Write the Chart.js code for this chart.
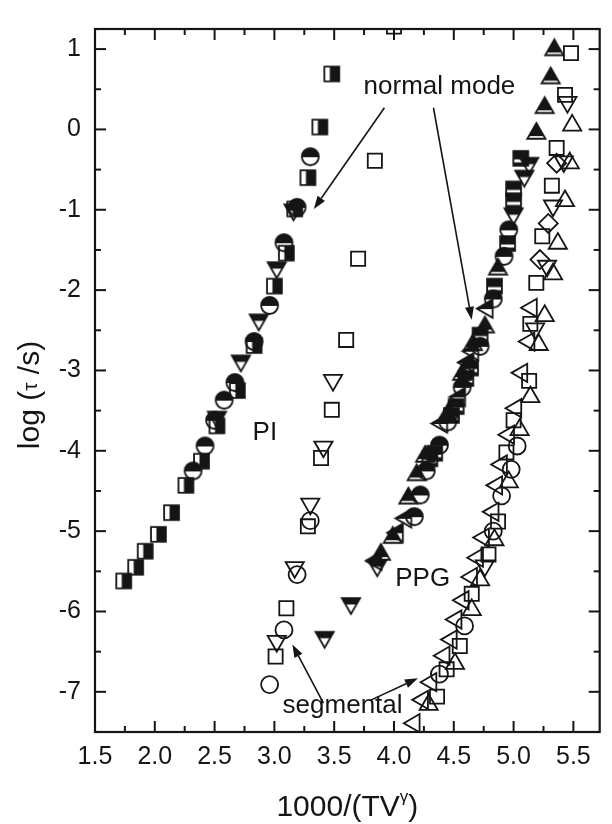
<!DOCTYPE html>
<html>
<head>
<meta charset="utf-8">
<script src="https://cdn.jsdelivr.net/npm/chart.js@4.4.1/dist/chart.umd.min.js"></script>
<style>
  html, body { margin: 0; padding: 0; background: #fff; }
  #wrap { width: 612px; height: 824px; position: relative; }
</style>
</head>
<body>
<div id="wrap"><canvas id="chart"></canvas></div>
<script>
// --- axis ticks ---
const xMajorTicks = [1.5, 2.0, 2.5, 3.0, 3.5, 4.0, 4.5, 5.0, 5.5];
const xMinorTicks = [1.75, 2.25, 2.75, 3.25, 3.75, 4.25, 4.75, 5.25];
const yMajorTicks = [-7, -6, -5, -4, -3, -2, -1, 0, 1];
const yMinorTicks = [-6.5, -5.5, -4.5, -3.5, -2.5, -1.5, -0.5, 0.5];

// --- PI, normal mode (half filled) ---
const piNormSqX = [1.74, 1.84, 1.92, 2.03, 2.14, 2.26, 2.39, 2.52, 2.69, 2.83, 3.00, 3.10, 3.17, 3.28, 3.38, 3.48];
const piNormSqY = [-5.62, -5.45, -5.25, -5.04, -4.77, -4.43, -4.13, -3.69, -3.25, -2.69, -1.95, -1.54, -0.99, -0.60, 0.03, 0.69];
const piNormCircX = [2.32, 2.42, 2.50, 2.58, 2.67, 2.83, 2.96, 3.08, 3.19, 3.30];
const piNormCircY = [-4.25, -3.94, -3.62, -3.37, -3.15, -2.64, -2.19, -1.41, -0.97, -0.34];
const piNormTriX = [2.52, 2.72, 2.87, 3.02, 3.16];
const piNormTriY = [-3.58, -2.88, -2.37, -1.72, -1.00];

// --- PI, segmental (open) ---
const piSegSqX = [3.01, 3.10, 3.28, 3.39, 3.48, 3.60, 3.70, 3.84, 4.00];
const piSegSqY = [-6.56, -5.96, -4.94, -4.09, -3.49, -2.62, -1.61, -0.39, 1.28];
const piSegCircX = [2.96, 3.08, 3.19, 3.30];
const piSegCircY = [-6.91, -6.23, -5.54, -4.87];
const piSegTriX = [3.02, 3.17, 3.30, 3.41, 3.49];
const piSegTriY = [-6.37, -5.45, -4.66, -3.95, -3.12];

// --- PPG, normal mode (half filled) ---
const ppgNormDownX = [3.42, 3.64, 3.86, 5.00, 5.09, 5.13];
const ppgNormDownY = [-6.32, -5.90, -5.43, -1.05, -0.58, -0.42];
const ppgNormUpX = [3.89, 3.99, 4.12, 4.19, 4.26, 4.46, 4.57, 4.66, 4.76, 4.87, 5.19, 5.26, 5.31, 5.34];
const ppgNormUpY = [-5.29, -5.08, -4.59, -4.30, -4.07, -3.52, -3.05, -2.68, -2.46, -1.74, -0.05, 0.27, 0.64, 0.99];
const ppgNormLeftX = [3.85, 4.03, 4.10, 4.40, 4.55, 4.62, 4.66, 4.78];
const ppgNormLeftY = [-5.37, -5.02, -4.84, -3.66, -3.33, -2.90, -2.76, -2.23];
const ppgNormCircX = [4.17, 4.22, 4.27, 4.38, 4.45, 4.57, 4.72, 4.83, 4.92, 4.96];
const ppgNormCircY = [-4.82, -4.55, -4.25, -3.93, -3.64, -3.21, -2.70, -2.11, -1.58, -1.25];
const ppgNormSqX = [4.30, 4.34, 4.48, 4.52, 4.60, 4.64, 4.72, 4.84, 4.95, 5.00, 5.00, 5.06];
const ppgNormSqY = [-4.10, -4.03, -3.56, -3.45, -3.10, -2.97, -2.56, -1.95, -1.42, -0.89, -0.74, -0.36];

// --- PPG, segmental (open) ---
const ppgSegSqX = [4.36, 4.44, 4.55, 4.65, 4.79, 4.87, 4.94, 5.00, 5.13, 5.14, 5.19, 5.24, 5.32, 5.36, 5.43, 5.48];
const ppgSegSqY = [-7.06, -6.72, -6.43, -5.78, -5.29, -4.88, -4.02, -3.62, -3.13, -2.42, -1.91, -1.33, -0.70, -0.23, 0.43, 0.95];
const ppgSegUpX = [4.29, 4.51, 4.65, 4.72, 4.84, 4.96, 5.05, 5.14, 5.21, 5.26, 5.33, 5.37, 5.43, 5.47, 5.49];
const ppgSegUpY = [-7.16, -6.65, -5.98, -5.61, -5.11, -4.39, -3.74, -3.33, -2.68, -2.32, -1.80, -1.42, -0.89, -0.42, 0.05];
const ppgSegLeftX = [4.17, 4.24, 4.31, 4.42, 4.48, 4.52, 4.58, 4.65, 4.70, 4.75, 4.83, 4.86, 4.90, 4.96, 5.02, 5.07, 5.13, 5.15];
const ppgSegLeftY = [-7.39, -7.10, -6.88, -6.55, -6.35, -6.10, -5.86, -5.57, -5.33, -5.08, -4.76, -4.43, -4.17, -3.80, -3.47, -3.03, -2.64, -2.22];
const ppgSegCircX = [4.38, 4.59, 4.83, 4.90, 4.98, 5.03];
const ppgSegCircY = [-6.78, -6.18, -5.00, -4.56, -4.23, -3.94];
const ppgSegDownX = [4.76, 5.18, 5.28, 5.33, 5.42, 5.45];
const ppgSegDownY = [-5.43, -2.48, -1.70, -0.95, -0.40, 0.34];
const ppgSegDiaX = [5.22, 5.29, 5.36];
const ppgSegDiaY = [-1.62, -1.17, -0.42];

// --- annotations (data units) ---
const labelTexts = ['normal mode', 'PI', 'PPG', 'segmental'];
const labelX = [4.38, 2.92, 4.24, 3.57];
const labelY = [0.53, -3.78, -5.59, -7.17];
const arrowFrom = [[3.92, 0.27], [4.33, 0.27], [3.41, -7.14], [3.81, -7.10]];
const arrowTo = [[3.33, -0.99], [4.65, -2.37], [3.15, -6.41], [4.20, -6.83]];

const INK = '#151515';
const FONT = "'Liberation Sans', Arial, Helvetica, sans-serif";
const LW = 1.8;

function pts(xs, ys) {
    return xs.map((x, i) => ({ x: x, y: ys[i] }));
}

// small canvases for the half filled symbols
function makeMarker(r, shape, fillPart) {
    const size = Math.ceil(2 * r + 4);
    const c = document.createElement('canvas');
    c.width = size;
    c.height = size;
    const g = c.getContext('2d');
    const cx = size / 2, cy = size / 2;
    const p = new Path2D();
    if (shape === 'square') {
        const h = r * Math.SQRT1_2;
        p.rect(cx - h, cy - h, 2 * h, 2 * h);
    } else if (shape === 'circle') {
        p.arc(cx, cy, r, 0, Math.PI * 2);
    } else {
        const ang = { up: 0, down: 180, left: 270 }[shape] * Math.PI / 180;
        for (let k = 0; k < 3; k++) {
            const a = ang + k * 2 * Math.PI / 3;
            const px = cx + Math.sin(a) * r, py = cy - Math.cos(a) * r;
            if (k === 0) p.moveTo(px, py); else p.lineTo(px, py);
        }
        p.closePath();
    }
    g.save();
    g.clip(p);
    g.fillStyle = INK;
    fillPart(g, cx, cy, r);
    g.restore();
    g.lineWidth = LW;
    g.strokeStyle = INK;
    g.stroke(p);
    return c;
}

const mkHalfSqV = makeMarker(10.5, 'square', (g, cx, cy, r) => g.fillRect(cx - 2, 0, 40, 40));
const mkHalfCirc = makeMarker(8.5, 'circle', (g, cx, cy, r) => g.fillRect(0, 0, 40, cy + 0.5));
const mkHalfDown = makeMarker(10.5, 'down', (g, cx, cy, r) => g.fillRect(0, 0, 40, cy + 1));
const mkHalfUp = makeMarker(10.5, 'up', (g, cx, cy, r) => g.fillRect(0, 0, 40, cy + r * 0.25));
const mkHalfLeft = makeMarker(10.5, 'left', (g, cx, cy, r) => g.fillRect(0, 0, 40, cy + 0.5));
const mkHalfSqH = makeMarker(10.5, 'square', (g, cx, cy, r) => {
    g.fillRect(0, 0, 40, cy + 1);
    g.fillRect(0, cy + 4, 40, 40);
});

function openSet(data, style, radius, rotation) {
    return {
        data: data,
        pointStyle: style,
        pointRadius: radius,
        pointRotation: rotation || 0,
        pointBorderWidth: LW,
        pointBorderColor: INK,
        pointBackgroundColor: 'rgba(0,0,0,0)',
        showLine: false
    };
}

function halfSet(data, img) {
    return {
        data: data,
        pointStyle: img,
        pointRadius: 9,
        showLine: false
    };
}

const datasets = [
    Object.assign(openSet(pts(piSegSqX, piSegSqY), 'rect', 10), { clip: 0 }),
    openSet(pts(piSegCircX, piSegCircY), 'circle', 8.5),
    openSet(pts(piSegTriX, piSegTriY), 'triangle', 10.5, 180),
    openSet(pts(ppgSegLeftX, ppgSegLeftY), 'triangle', 10.5, 270),
    openSet(pts(ppgSegUpX, ppgSegUpY), 'triangle', 10.5),
    openSet(pts(ppgSegSqX, ppgSegSqY), 'rect', 10),
    openSet(pts(ppgSegCircX, ppgSegCircY), 'circle', 8.5),
    openSet(pts(ppgSegDownX, ppgSegDownY), 'triangle', 10.5, 180),
    openSet(pts(ppgSegDiaX, ppgSegDiaY), 'rectRot', 9.5),
    halfSet(pts(piNormSqX, piNormSqY), mkHalfSqV),
    halfSet(pts(piNormTriX, piNormTriY), mkHalfDown),
    halfSet(pts(piNormCircX, piNormCircY), mkHalfCirc),
    halfSet(pts(ppgNormLeftX, ppgNormLeftY), mkHalfLeft),
    halfSet(pts(ppgNormUpX, ppgNormUpY), mkHalfUp),
    halfSet(pts(ppgNormSqX, ppgNormSqY), mkHalfSqH),
    halfSet(pts(ppgNormCircX, ppgNormCircY), mkHalfCirc),
    halfSet(pts(ppgNormDownX, ppgNormDownY), mkHalfDown)
];

// frame, inward ticks, titles, labels and arrows
const inkPlugin = {
    id: 'ink',
    afterDraw(chart) {
        const { ctx, chartArea: a, scales } = chart;
        const xs = scales.x, ys = scales.y;
        ctx.save();
        ctx.strokeStyle = INK;
        ctx.fillStyle = INK;
        ctx.lineWidth = 2.2;
        ctx.strokeRect(a.left, a.top, a.right - a.left, a.bottom - a.top);

        const seg = (x0, y0, x1, y1) => {
            ctx.beginPath();
            ctx.moveTo(x0, y0);
            ctx.lineTo(x1, y1);
            ctx.stroke();
        };
        ctx.lineWidth = 2;
        const xTick = (v, len) => {
            const p = xs.getPixelForValue(v);
            seg(p, a.bottom, p, a.bottom - len);
            seg(p, a.top, p, a.top + len);
        };
        const yTick = (v, len) => {
            const p = ys.getPixelForValue(v);
            seg(a.left, p, a.left + len, p);
            seg(a.right, p, a.right - len, p);
        };
        xMajorTicks.forEach(v => xTick(v, 11));
        xMinorTicks.forEach(v => xTick(v, 6));
        yMajorTicks.forEach(v => yTick(v, 11));
        yMinorTicks.forEach(v => yTick(v, 6));

        // annotations
        ctx.font = '26px ' + FONT;
        ctx.textAlign = 'center';
        ctx.textBaseline = 'middle';
        labelTexts.forEach((t, i) => {
            ctx.fillText(t, xs.getPixelForValue(labelX[i]), ys.getPixelForValue(labelY[i]));
        });

        ctx.lineWidth = 1.6;
        arrowFrom.forEach((f, i) => {
            const x0 = xs.getPixelForValue(f[0]), y0 = ys.getPixelForValue(f[1]);
            const x1 = xs.getPixelForValue(arrowTo[i][0]), y1 = ys.getPixelForValue(arrowTo[i][1]);
            const ang = Math.atan2(y1 - y0, x1 - x0);
            const len = 13, hw = 4.5;
            const bx = x1 - Math.cos(ang) * len, by = y1 - Math.sin(ang) * len;
            seg(x0, y0, bx, by);
            ctx.beginPath();
            ctx.moveTo(x1, y1);
            ctx.lineTo(bx + Math.sin(ang) * hw, by - Math.cos(ang) * hw);
            ctx.lineTo(bx - Math.sin(ang) * hw, by + Math.cos(ang) * hw);
            ctx.closePath();
            ctx.fill();
        });

        // x axis title: 1000/(TV^γ)
        ctx.textAlign = 'left';
        ctx.textBaseline = 'alphabetic';
        const big = '30px ' + FONT, small = '17px ' + FONT;
        ctx.font = big;
        const w1 = ctx.measureText('1000/(TV').width;
        const w3 = ctx.measureText(')').width;
        ctx.font = small;
        const w2 = ctx.measureText('γ').width;
        let tx = (a.left + a.right) / 2 - (w1 + w2 + w3) / 2;
        const tb = 816;
        ctx.font = big;
        ctx.fillText('1000/(TV', tx, tb);
        ctx.font = small;
        ctx.fillText('γ', tx + w1, tb - 14);
        ctx.font = big;
        ctx.fillText(')', tx + w1 + w2, tb);

        // y axis title: log (τ /s)
        ctx.save();
        ctx.translate(39, 395);
        ctx.rotate(-Math.PI / 2);
        const tauFont = '21px ' + FONT;
        ctx.font = big;
        const a1 = ctx.measureText('log (').width;
        const a3 = ctx.measureText(' /s)').width;
        ctx.font = tauFont;
        const a2 = ctx.measureText('τ').width;
        let sx = -(a1 + a2 + a3) / 2;
        ctx.font = big;
        ctx.fillText('log (', sx, 0);
        ctx.font = tauFont;
        ctx.fillText('τ', sx + a1, -2);
        ctx.font = big;
        ctx.fillText(' /s)', sx + a1 + a2, 0);
        ctx.restore();

        ctx.restore();
    }
};

const chart = new Chart(document.getElementById('chart').getContext('2d'), {
    type: 'scatter',
    data: { datasets: datasets },
    options: {
        responsive: true,
        maintainAspectRatio: false,
        animation: false,
        layout: { padding: { left: 0, right: 3, top: 11, bottom: 0 } },
        plugins: {
            legend: { display: false },
            tooltip: { enabled: false }
        },
        scales: {
            x: {
                type: 'linear',
                min: 1.5,
                max: 5.72,
                afterBuildTicks: (s) => { s.ticks = xMajorTicks.map(v => ({ value: v })); },
                afterFit: (s) => { s.height = 92; },
                grid: { display: false, drawTicks: false },
                border: { display: false },
                ticks: {
                    color: INK,
                    padding: 10,
                    maxRotation: 0,
                    autoSkip: false,
                    font: { family: FONT, size: 25 },
                    callback: (v) => Number(v).toFixed(1)
                }
            },
            y: {
                type: 'linear',
                min: -7.5,
                max: 1.25,
                afterBuildTicks: (s) => { s.ticks = yMajorTicks.map(v => ({ value: v })); },
                afterFit: (s) => { s.width = 95; },
                grid: { display: false, drawTicks: false },
                border: { display: false },
                ticks: {
                    color: INK,
                    padding: 14,
                    autoSkip: false,
                    font: { family: FONT, size: 25 },
                    callback: (v) => String(v)
                }
            }
        }
    },
    plugins: [inkPlugin]
});
</script>
</body>
</html>
